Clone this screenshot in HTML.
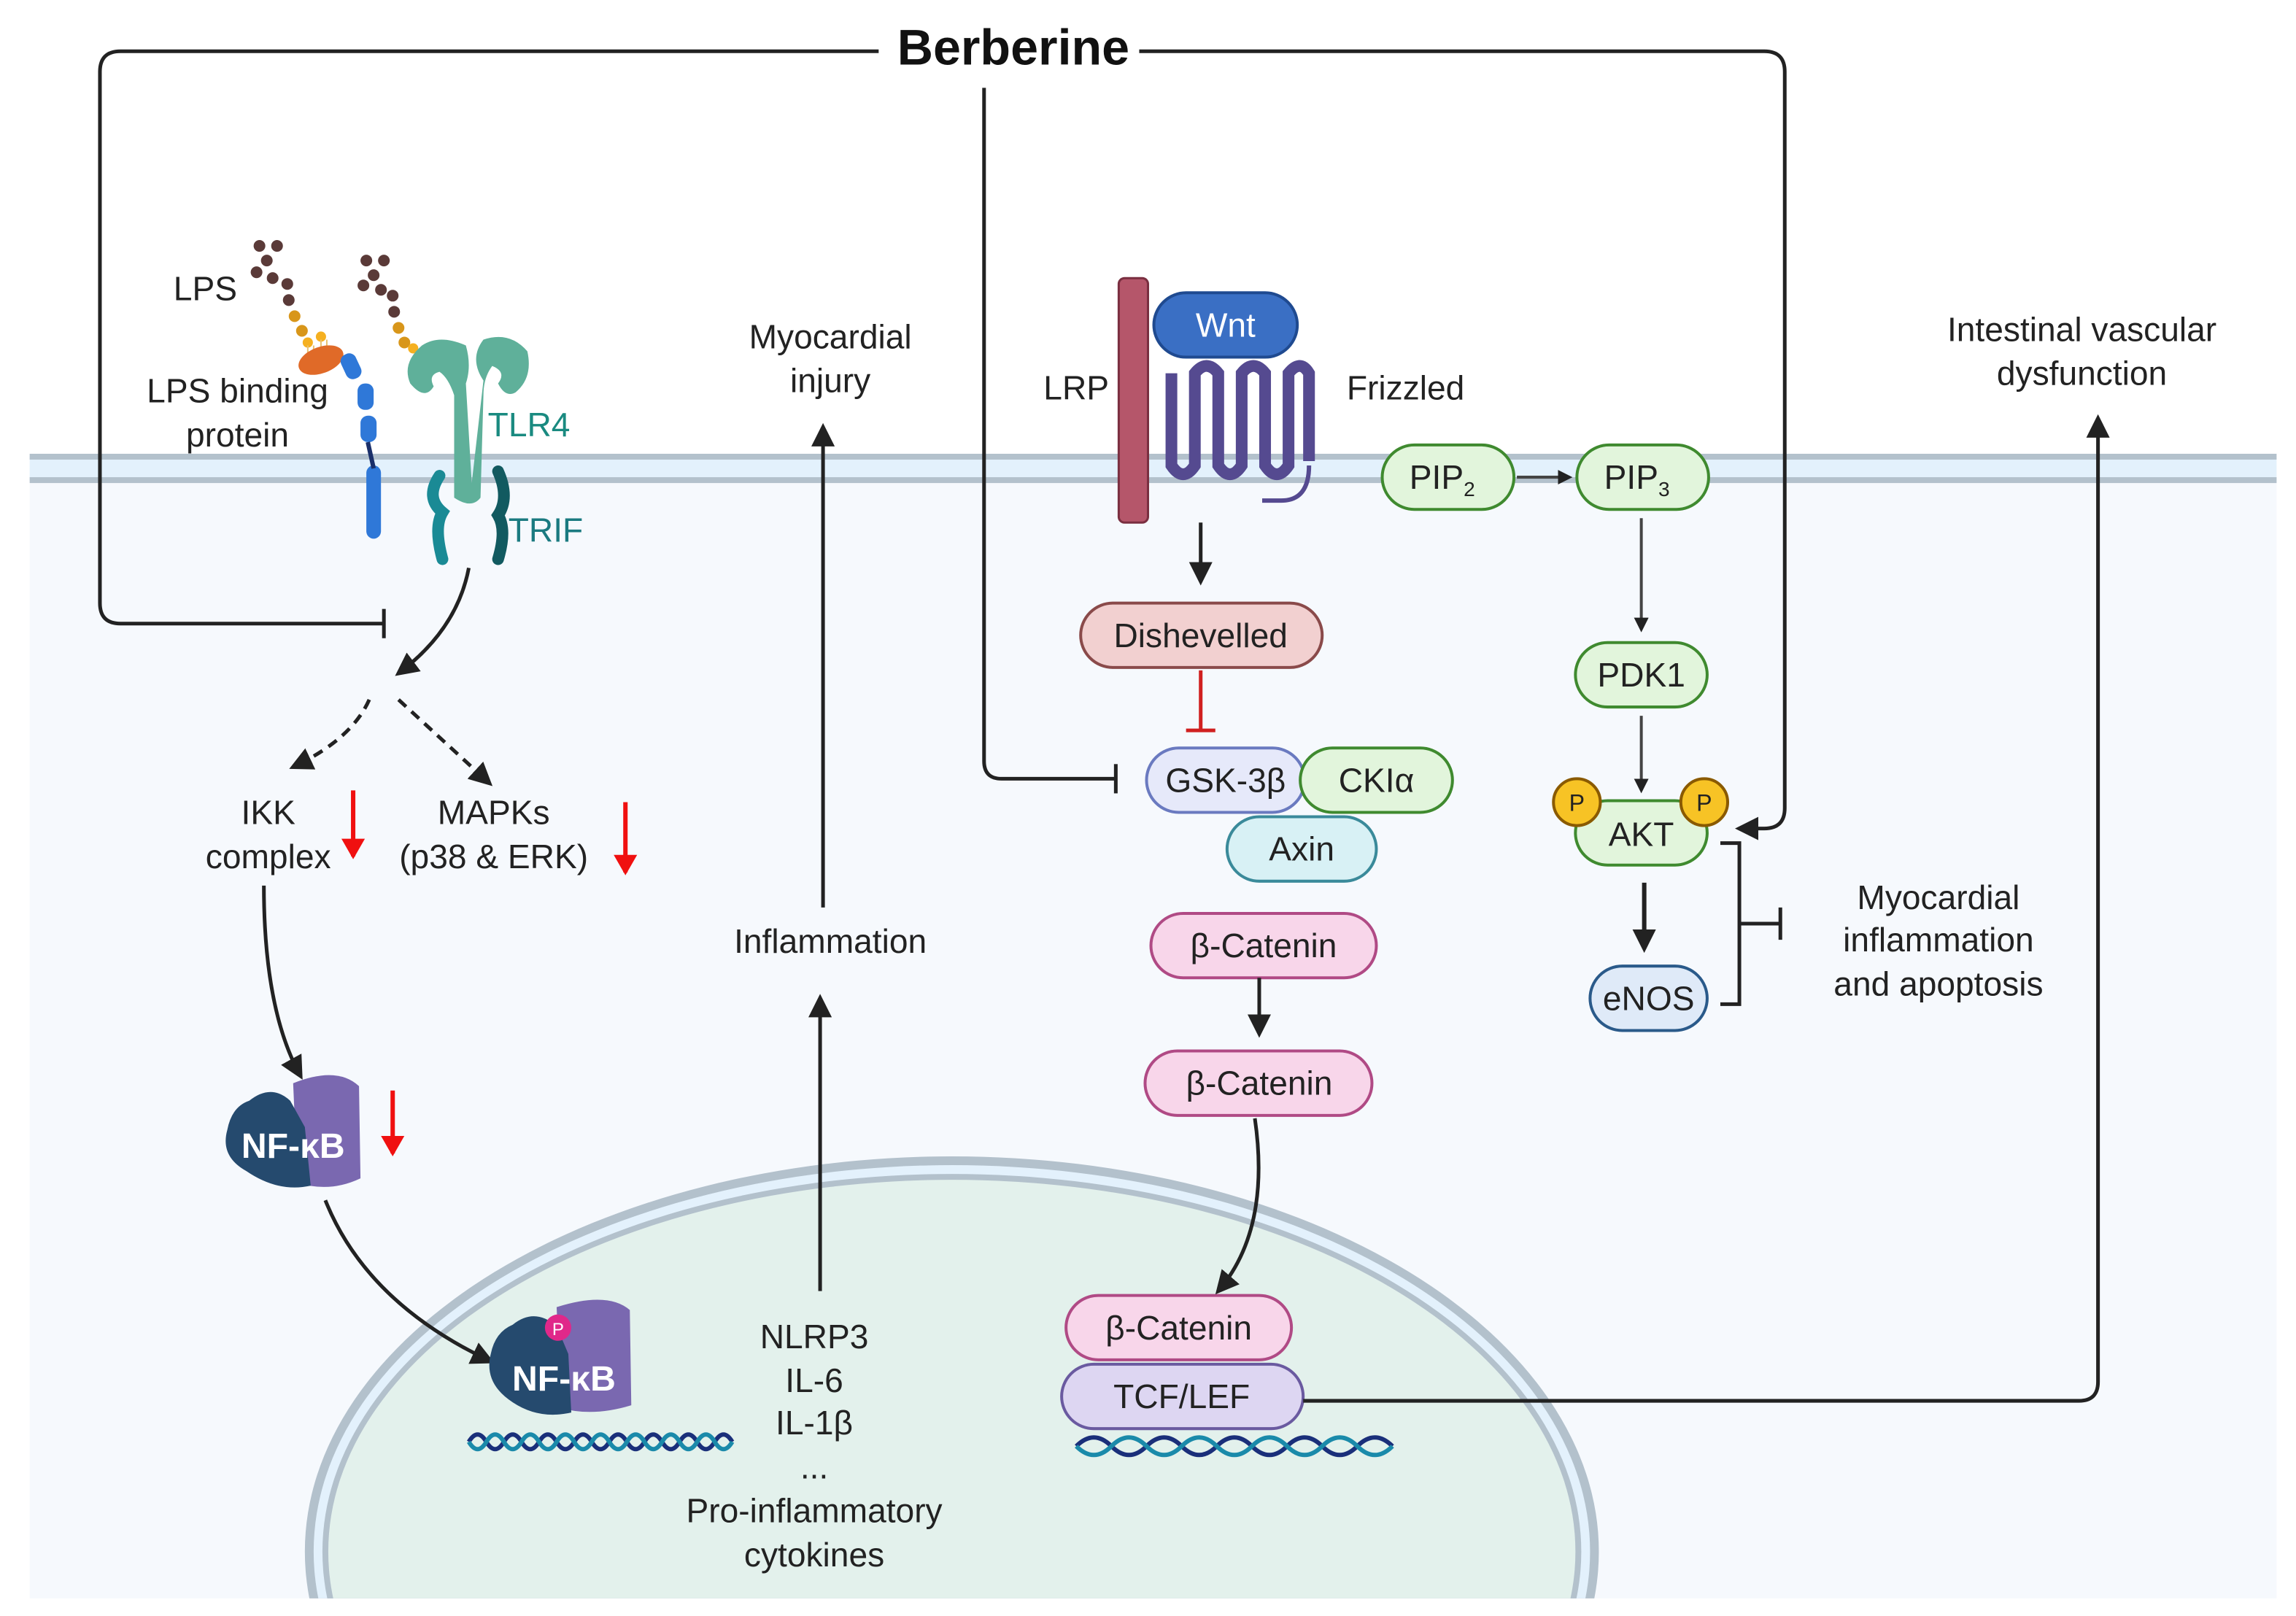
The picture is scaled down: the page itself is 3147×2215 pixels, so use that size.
<!DOCTYPE html>
<html><head><meta charset="utf-8"><style>
html,body{margin:0;padding:0;background:#fff;overflow:hidden;width:3147px;height:2215px}
svg{display:block}
text{font-family:"Liberation Sans",sans-serif}
</style></head><body>
<svg width="3147" height="2215" viewBox="0 0 1568 1104" xmlns="http://www.w3.org/2000/svg" fill="#222">
<defs>
<marker id="ah" markerWidth="10" markerHeight="10" refX="8" refY="5" orient="auto" markerUnits="userSpaceOnUse" viewBox="0 0 10 10"><path d="M0,0 L10,5 L0,10 z" fill="#222"/></marker>
<marker id="ahb" markerWidth="16" markerHeight="16" refX="13" refY="8" orient="auto" markerUnits="userSpaceOnUse" viewBox="0 0 16 16"><path d="M0,0 L16,8 L0,16 z" fill="#222"/></marker>
<marker id="ahr" markerWidth="14" markerHeight="16" refX="12" refY="8" orient="auto" markerUnits="userSpaceOnUse" viewBox="0 0 14 16"><path d="M0,0 L14,8 L0,16 z" fill="#f01010"/></marker>
</defs>
<rect width="1568" height="1104" fill="#fff"/>
<rect x="20" y="320" width="1535" height="772" fill="#f6f9fd"/>
<rect x="20" y="312" width="1535" height="16" fill="#e3f1fc"/>
<rect x="20" y="310" width="1535" height="4" fill="#b3c1cc"/>
<rect x="20" y="326" width="1535" height="4" fill="#b3c1cc"/>
<clipPath id="cp"><rect x="0" y="0" width="1568" height="1092"/></clipPath>
<g clip-path="url(#cp)">
<ellipse cx="650" cy="1060" rx="442" ry="270" fill="#b3c1cc"/>
<ellipse cx="650" cy="1060" rx="436" ry="264" fill="#e3f1fc"/>
<ellipse cx="650" cy="1060" rx="430" ry="258" fill="#b3c1cc"/>
<ellipse cx="650" cy="1060" rx="426" ry="254" fill="#e3f1ec"/>
</g>

<g fill="none" stroke="#222" stroke-width="2.5">
<path d="M600 35 H82 Q68 35 68 49 V412 Q68 426 82 426 H262"/>
<path d="M262 416 V436"/>
<path d="M778 35 H1205 Q1219 35 1219 49 V552 Q1219 566 1205 566 H1188" marker-end="url(#ahb)"/>
<path d="M672 60 V520 Q672 532 684 532 H762"/>
<path d="M762 522 V542"/>
</g>
<text x="692" y="44" font-size="34" font-weight="bold" text-anchor="middle" style="fill:#111">Berberine</text>

<g fill="#5a3a38">
<circle cx="177" cy="168" r="4"/><circle cx="189" cy="168" r="4"/><circle cx="182" cy="178" r="4"/><circle cx="175" cy="186" r="4"/><circle cx="186" cy="190" r="4"/><circle cx="196" cy="194" r="4"/><circle cx="197" cy="205" r="4"/>
<circle cx="250" cy="178" r="4"/><circle cx="262" cy="178" r="4"/><circle cx="255" cy="188" r="4"/><circle cx="248" cy="195" r="4"/><circle cx="260" cy="198" r="4"/><circle cx="268" cy="202" r="4"/><circle cx="269" cy="213" r="4"/>
</g>
<g fill="#d8961a">
<circle cx="201" cy="216" r="4"/><circle cx="206" cy="226" r="4"/><circle cx="272" cy="224" r="4"/><circle cx="276" cy="234" r="4"/>
</g>
<g fill="#f5b020"><circle cx="210" cy="234" r="3.5"/><circle cx="219" cy="230" r="3.5"/><circle cx="282" cy="238" r="3.5"/></g>
<g stroke="#e8c070" stroke-width="1"><path d="M210 236 v10 M214 236 v10 M219 232 v12 M223 232 v12"/></g>
<ellipse cx="219" cy="246" rx="16" ry="9" fill="#e06a28" transform="rotate(-20 219 246)"/>
<g fill="#2f78d8"><rect x="234" y="241" width="11" height="18" rx="5" transform="rotate(-25 240 250)"/><rect x="244" y="262" width="11" height="18" rx="5"/><rect x="246" y="284" width="11" height="18" rx="5"/><rect x="250" y="318" width="10" height="50" rx="5"/></g>
<path d="M251 302 L255 320" stroke="#1a2f6a" stroke-width="3"/>
<g fill="#5fb09a">
<path d="M288 236 Q300 228 318 236 Q322 250 318 262 L322 330 L330 260 Q320 245 330 232 Q348 226 360 240 Q364 258 352 268 Q345 272 340 262 Q346 254 336 250 Q330 258 330 270 L328 340 Q322 348 310 340 L310 270 Q306 258 300 254 Q292 256 296 264 Q290 274 280 262 Q274 248 288 236z"/>
</g>
<g fill="none" stroke-linecap="round">
<path d="M300 325 Q290 340 302 350 Q296 360 302 382" stroke="#1a8a95" stroke-width="8"/>
<path d="M340 322 Q348 340 340 352 Q346 362 340 382" stroke="#125a60" stroke-width="8"/>
</g>
<text x="333" y="298" font-size="23" style="fill:#1a8a80">TLR4</text>
<text x="347" y="370" font-size="23" style="fill:#1a7a80">TRIF</text>
<text x="140" y="205" font-size="23" text-anchor="middle">LPS</text>
<text x="162" y="275" font-size="23" text-anchor="middle">LPS binding</text>
<text x="162" y="305" font-size="23" text-anchor="middle">protein</text>

<path d="M320 388 Q312 430 272 460" fill="none" stroke="#222" stroke-width="2.5" marker-end="url(#ahb)"/>
<g fill="none" stroke="#222" stroke-width="2.5" stroke-dasharray="7 5">
<path d="M252 478 Q240 505 200 524" marker-end="url(#ahb)"/>
<path d="M272 478 L334 535" marker-end="url(#ahb)"/>
</g>
<text x="183" y="563" font-size="23" text-anchor="middle">IKK</text>
<text x="183" y="593" font-size="23" text-anchor="middle">complex</text>
<text x="337" y="563" font-size="23" text-anchor="middle">MAPKs</text>
<text x="337" y="593" font-size="23" text-anchor="middle">(p38 &amp; ERK)</text>
<g stroke="#f01010" stroke-width="3" fill="none">
<path d="M241 540 V585" marker-end="url(#ahr)"/>
<path d="M427 548 V596" marker-end="url(#ahr)"/>
<path d="M268 745 V788" marker-end="url(#ahr)"/>
</g>
<path d="M180 605 Q180 690 205 735" fill="none" stroke="#222" stroke-width="2.5" marker-end="url(#ahb)"/>
<g>
<path d="M200 740 Q230 728 245 742 L246 805 Q225 815 203 808 z" fill="#7a68b0"/>
<path d="M170 752 Q185 740 198 752 L208 770 L212 810 Q190 815 168 800 Q150 790 155 772 Q158 756 170 752z" fill="#254a6e"/>
<text x="200" y="791" font-size="24" font-weight="bold" text-anchor="middle" style="fill:#fff">NF-κB</text>
</g>
<path d="M222 820 Q250 890 335 930" fill="none" stroke="#222" stroke-width="2.5" marker-end="url(#ahb)"/>
<path d="M380 893 Q415 882 430 895 L431 960 Q405 968 383 962 z" fill="#7a68b0"/>
<path d="M350 905 Q365 893 380 906 L388 925 L390 965 Q368 970 350 958 Q330 945 335 925 Q338 910 350 905z" fill="#254a6e"/>
<text x="385" y="950" font-size="24" font-weight="bold" text-anchor="middle" style="fill:#fff">NF-κB</text>
<circle cx="381" cy="907" r="9" fill="#e0288a"/><text x="381" y="912" font-size="12" text-anchor="middle" style="fill:#fff">P</text>
<g fill="none" stroke-width="3">
<path d="M320 985 q6 -10 12 0 t12 0 t12 0 t12 0 t12 0 t12 0 t12 0 t12 0 t12 0 t12 0 t12 0 t12 0 t12 0 t12 0 t12 0" stroke="#1a2f7a"/>
<path d="M320 985 q6 10 12 0 t12 0 t12 0 t12 0 t12 0 t12 0 t12 0 t12 0 t12 0 t12 0 t12 0 t12 0 t12 0 t12 0 t12 0" stroke="#1a8aaa"/>
<path d="M735 988 q12 -12 24 0 t24 0 t24 0 t24 0 t24 0 t24 0 t24 0 t24 0 t24 0" stroke="#1a2f7a"/>
<path d="M735 988 q12 12 24 0 t24 0 t24 0 t24 0 t24 0 t24 0 t24 0 t24 0 t24 0" stroke="#1a8aaa"/>
</g>

<text x="567" y="238" font-size="23" text-anchor="middle">Myocardial</text>
<text x="567" y="268" font-size="23" text-anchor="middle">injury</text>
<path d="M562 620 V292" stroke="#222" stroke-width="2.5" marker-end="url(#ahb)"/>
<text x="567" y="651" font-size="23" text-anchor="middle">Inflammation</text>
<path d="M560 882 V682" stroke="#222" stroke-width="2.5" marker-end="url(#ahb)"/>
<g font-size="23" text-anchor="middle">
<text x="556" y="921">NLRP3</text><text x="556" y="951">IL-6</text><text x="556" y="980">IL-1β</text><text x="556" y="1010">...</text><text x="556" y="1040">Pro-inflammatory</text><text x="556" y="1070">cytokines</text>
</g>

<rect x="764" y="190" width="20" height="167" rx="4" fill="#b5566a" stroke="#7a2f40" stroke-width="1.5"/>
<text x="735" y="273" font-size="23" text-anchor="middle">LRP</text>
<g fill="none" stroke="#554a90" stroke-width="8">
<path d="M800 255 V318 Q808 330 816 318 V255 Q824 245 832 255 V318 Q840 330 848 318 V255 Q856 245 864 255 V318 Q872 330 880 318 V255 Q888 245 894 255 V315"/>
</g>
<path d="M894 318 Q894 342 875 342 H862" fill="none" stroke="#554a90" stroke-width="3"/>
<rect x="788" y="200" width="98" height="44" rx="22" fill="#3a6fc4" stroke="#1f4a90" stroke-width="2"/>
<text x="837" y="230" font-size="23" text-anchor="middle" style="fill:#fff">Wnt</text>
<text x="960" y="273" font-size="23" text-anchor="middle">Frizzled</text>
<path d="M820 357 V397" stroke="#222" stroke-width="2.5" marker-end="url(#ahb)"/>
<path d="M820 458 V498 M810 499 H830" stroke="#d02020" stroke-width="2.5" fill="none"/>

<g font-size="23" text-anchor="middle" stroke-width="2">
<rect x="738" y="412" width="165" height="44" rx="22" fill="#f2d0d0" stroke="#8a4a4a"/>
<text x="820" y="442" stroke="none" fill="#222">Dishevelled</text>
<rect x="838" y="558" width="102" height="44" rx="22" fill="#d8f1f5" stroke="#3a8a9a"/>
<text x="889" y="588" stroke="none" fill="#222">Axin</text>
<rect x="783" y="511" width="108" height="44" rx="22" fill="#e6e9fa" stroke="#6a7ac0"/>
<text x="837" y="541" stroke="none" fill="#222">GSK-3β</text>
<rect x="888" y="511" width="104" height="44" rx="22" fill="#e2f5dc" stroke="#3f8a2f"/>
<text x="940" y="541" stroke="none" fill="#222">CKIα</text>
<rect x="786" y="624" width="154" height="44" rx="22" fill="#f8d6ea" stroke="#b04a85"/>
<text x="863" y="654" stroke="none" fill="#222">β-Catenin</text>
<rect x="782" y="718" width="155" height="44" rx="22" fill="#f8d6ea" stroke="#b04a85"/>
<text x="860" y="748" stroke="none" fill="#222">β-Catenin</text>
<rect x="725" y="932" width="165" height="44" rx="22" fill="#ddd6f2" stroke="#6a5aa0"/>
<text x="807" y="962" stroke="none" fill="#222">TCF/LEF</text>
<rect x="728" y="885" width="154" height="44" rx="22" fill="#f8d6ea" stroke="#b04a85"/>
<text x="805" y="915" stroke="none" fill="#222">β-Catenin</text>
</g>
<path d="M860 668 V706" stroke="#222" stroke-width="2.5" marker-end="url(#ahb)"/>
<path d="M857 764 Q868 840 832 882" fill="none" stroke="#222" stroke-width="2.5" marker-end="url(#ahb)"/>
<path d="M890 957 H1420 Q1433 957 1433 944 V286" fill="none" stroke="#222" stroke-width="2.5" marker-end="url(#ahb)"/>
<text x="1422" y="233" font-size="23" text-anchor="middle">Intestinal vascular</text>
<text x="1422" y="263" font-size="23" text-anchor="middle">dysfunction</text>

<g font-size="23" text-anchor="middle" stroke-width="2">
<rect x="944" y="304" width="90" height="44" rx="22" fill="#e2f5dc" stroke="#3f8a2f"/>
<text x="985" y="334" stroke="none" fill="#222">PIP<tspan font-size="14" dy="5">2</tspan></text>
<rect x="1077" y="304" width="90" height="44" rx="22" fill="#e2f5dc" stroke="#3f8a2f"/>
<text x="1118" y="334" stroke="none" fill="#222">PIP<tspan font-size="14" dy="5">3</tspan></text>
<rect x="1076" y="439" width="90" height="44" rx="22" fill="#e2f5dc" stroke="#3f8a2f"/>
<text x="1121" y="469" stroke="none" fill="#222">PDK1</text>
<rect x="1076" y="547" width="90" height="44" rx="22" fill="#e2f5dc" stroke="#3f8a2f"/>
<text x="1121" y="578" stroke="none" fill="#222">AKT</text>
<rect x="1086" y="660" width="80" height="44" rx="22" fill="#dfeaf8" stroke="#2a5a8a"/>
<text x="1126" y="690" stroke="none" fill="#222">eNOS</text>
</g>
<g font-size="16" text-anchor="middle">
<circle cx="1077" cy="548" r="16" fill="#f7c325" stroke="#8a5a00" stroke-width="2"/><text x="1077" y="554">P</text>
<circle cx="1164" cy="548" r="16" fill="#f7c325" stroke="#8a5a00" stroke-width="2"/><text x="1164" y="554">P</text>
</g>
<g stroke="#444" stroke-width="2" fill="none">
<path d="M1036 326 H1072" marker-end="url(#ah)"/>
<path d="M1121 354 V430" marker-end="url(#ah)"/>
<path d="M1121 489 V540" marker-end="url(#ah)"/>
</g>
<path d="M1123 603 V648" stroke="#222" stroke-width="3" marker-end="url(#ahb)"/>
<path d="M1175 576 H1188 V686 H1175 M1188 631 H1216 M1216 620 V642" stroke="#222" stroke-width="2.5" fill="none"/>
<g font-size="23" text-anchor="middle">
<text x="1324" y="621">Myocardial</text><text x="1324" y="650">inflammation</text><text x="1324" y="680">and apoptosis</text>
</g>
</svg>
</body></html>
